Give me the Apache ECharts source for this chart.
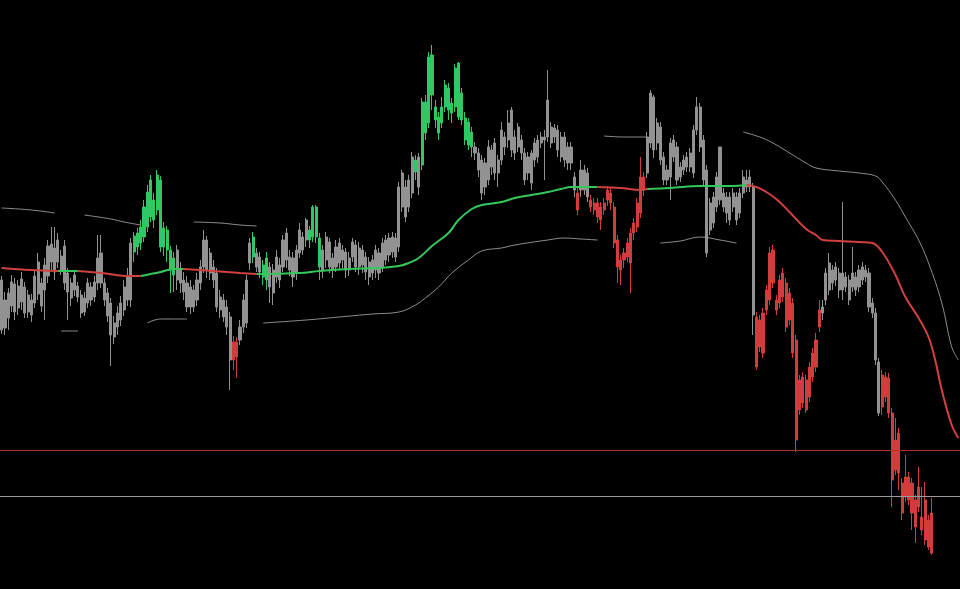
<!DOCTYPE html>
<html>
<head>
<meta charset="utf-8">
<script src="https://cdn.jsdelivr.net/npm/echarts@6/dist/echarts.min.js"></script>
<style>html,body{margin:0;padding:0;background:#000;}#c{width:960px;height:589px;}</style>
</head>
<body>
<div id="c"></div>
<script>
// OHLC candles: [open, close, low, high]
const candles = [
[270,320,266,324],[272,300,265,308],[282,307,270,312],[294,318,288,325],[288,316,280,322],[292,314,285,320],[298,321,290,328],[287,313,282,318],[288,305,282,310],[285,300,278,306],
[297,324,292,330],[306,338,300,347],[294,317,288,322],[310,335,280,342],[324,354,317,360],[338,356,330,373],[328,352,320,373],[338,360,332,367],[330,344,325,350],[317,354,310,360],
[308,327,280,332],[302,317,294,322],[310,325,304,330],[303,314,298,318],[287,305,282,310],[288,302,284,308],[297,317,292,322],[300,313,294,318],[303,318,298,324],[317,342,310,365],
[317,347,312,365],[300,317,294,322],[284,307,278,312],[265,297,234,302],[263,277,256,284],[273,287,265,294],[280,297,274,304],[290,313,284,320],[300,323,294,332],[300,357,293,362],
[348,364,338,368],[353,367,345,372],[357,373,350,380],[363,393,358,400],[373,408,368,415],[383,420,378,425],[380,400,372,407],[390,425,385,430],[353,420,348,424],[353,372,344,378],
[350,370,338,374],[330,350,307,354],[325,342,308,348],[320,350,310,355],[317,330,307,338],[308,320,300,328],[293,317,288,324],[293,313,286,320],[293,310,288,315],[300,320,294,327],
[317,333,310,340],[333,360,327,370],[330,360,322,364],[327,347,320,352],[320,333,312,340],[293,327,288,332],[290,303,282,310],[283,300,278,306],[273,293,265,300],[240,283,210,288],
[240,258,230,264],[243,258,222,263],[260,273,255,280],[273,300,267,306],[277,320,272,325],[337,357,330,362],[343,363,337,368],[333,347,328,352],[328,343,322,348],[323,335,315,340],
[320,342,310,348],[313,333,297,338],[307,330,295,336],[323,343,317,350],[320,335,312,342],[333,360,328,365],[340,367,332,372],[330,343,324,350],[323,342,313,348],[327,350,320,355],
[347,370,342,377],[350,363,345,368],[360,380,353,382],[360,370,352,374],[363,393,358,395],[363,393,357,395],[333,362,320,367],[330,350,322,355],[340,363,332,368],[333,358,327,362],
[330,342,322,347],[333,353,328,360],[337,357,330,362],[340,350,332,355],[330,348,322,352],[330,342,324,348],[343,358,338,362],[333,355,328,360],[333,352,325,358],[335,350,327,355],
[328,343,320,348],[323,338,315,343],[327,340,320,345],[330,350,322,355],[327,347,320,352],[333,357,328,362],[340,360,335,365],[345,362,338,367],[348,363,342,368],[343,362,338,367],
[353,413,348,418],[393,427,388,430],[383,413,378,420],[393,420,388,425],[407,443,402,448],[428,440,420,445],[413,443,405,447],[435,498,430,502],[467,498,460,505],[477,543,472,548],
[505,545,490,555],[480,493,472,500],[467,483,460,488],[477,493,472,503],[493,515,488,520],[490,512,480,517],[487,497,477,502],[493,532,488,536],[483,537,480,538],[480,507,475,512],
[460,482,455,488],[455,478,450,482],[453,468,443,473],[447,453,440,458],[430,447,423,452],[407,440,400,445],[413,437,405,442],[420,453,415,460],[433,450,425,455],[427,457,420,462],
[427,440,413,445],[440,470,435,478],[453,463,445,468],[460,477,452,490],[450,490,443,493],[447,463,440,470],[453,473,448,477],[447,460,440,465],[420,447,415,452],[427,443,420,448],
[417,447,410,450],[440,457,433,462],[443,460,437,465],[457,463,452,468],[460,463,420,470],[463,500,458,530],[457,473,452,478],[463,472,457,476],[450,470,443,475],[443,463,438,468],
[440,463,433,468],[437,453,430,458],[437,453,430,458],[410,423,403,428],[390,407,385,412],[410,430,403,440],[410,430,405,435],[403,427,398,432],[393,400,388,405],[390,397,385,402],
[383,397,377,402],[380,393,370,398],[390,397,385,402],[400,410,394,414],[397,407,390,412],[357,393,352,398],[333,360,317,365],[330,340,315,345],[340,347,332,352],[343,357,338,362],
[337,367,307,372],[367,377,360,382],[373,397,368,402],[387,423,382,443],[410,423,404,428],[427,463,422,468],[457,507,452,510],[450,503,442,505],[457,477,450,482],[440,473,435,478],
[420,443,415,448],[420,430,415,435],[423,457,400,462],[443,460,438,465],[420,453,415,458],[423,433,418,438],[430,440,425,445],[433,443,428,448],[433,447,428,452],[427,470,422,475],
[470,493,465,503],[453,493,448,497],[420,460,415,465],[347,430,343,435],[370,397,365,402],[377,403,372,408],[393,423,388,428],[400,453,395,453],[393,407,388,412],[387,403,377,408],
[380,403,375,408],[393,407,388,412],[380,403,375,408],[387,407,382,412],[407,423,402,430],[413,420,408,430],[413,423,408,430],[285,413,265,417],[233,283,230,288],[253,280,248,285],
[247,287,242,292],[290,310,285,315],[300,347,295,353],[317,350,312,355],[290,300,285,305],[297,320,292,325],[303,327,298,332],[273,317,268,322],[280,307,275,312],[247,297,242,302],
[160,260,148,265],[190,220,185,225],[197,223,192,228],[190,220,187,225],[203,233,198,238],[223,247,218,252],[233,260,228,267],[273,290,268,300],[287,293,280,300],[300,327,295,332],
[310,337,305,347],[317,330,310,335],[320,333,314,338],[310,327,302,332],[310,327,300,398],[313,323,308,328],[300,320,295,325],[313,327,308,353],[310,323,304,328],[313,330,308,335],
[320,333,315,338],[323,330,318,335],[293,327,288,332],[287,297,282,302],[240,287,235,292],[187,238,184,242],[193,225,185,230],[203,223,198,228],[187,222,182,227],[120,187,93,192],
[130,160,125,182],[127,167,110,172],[87,117,80,122],[103,123,98,145],[100,123,95,128],[87,117,70,122],[73,100,57,105],[93,113,88,133],[70,83,65,113],[60,100,55,118],
[53,80,50,85],[47,87,45,102]
];
// candle tone runs: n = neutral (grey), g = bullish trend (green), r = bearish trend (red)
const toneRuns = [['n',40],['g',13],['n',17],['r',2],['n',4],['g',1],['n',2],['g',2],['n',12],['g',4],['n',28],['g',1],['n',1],['g',16],['n',31],['r',1],['n',3],['r',17],['n',33],['r',20],['n',18],['r',16]];
const barCount = 290;
// moving average, trend colored segments: [barIndex, value]
const maSegments = [
  {tone:'r', pts:[[0,332],[9,330],[17,329]]},
  {tone:'g', pts:[[17,329],[23,329]]},
  {tone:'r', pts:[[23,329],[30,327],[39,324],[42,324]]},
  {tone:'g', pts:[[42,324],[48,328],[52,331],[55,331]]},
  {tone:'r', pts:[[55,331],[64,329],[72,327],[77,326]]},
  {tone:'g', pts:[[77,326],[90,327],[96,329],[105,331],[114,332],[120,334],[123,337],[126,342],[130,354],[135,367],[138,380],[142,391],[145,395],[151,398],[155,402],[160,405],[165,408],[169,411],[172,413],[176,413],[180,413]]},
  {tone:'r', pts:[[180,413],[187,412],[193,410],[195,411]]},
  {tone:'g', pts:[[195,411],[202,412],[211,414],[220,414],[225,415]]},
  {tone:'r', pts:[[225,415],[228,413],[231,408],[234,401],[238,388],[243,371],[246,365],[248,360],[253,359],[259,358],[263,357],[266,348],[270,325],[273,303],[277,282],[280,263],[282,240],[284,210],[287,175],[289,162]]}
];
// envelope bands (drawn only where defined)
const upperBand = [
  [[0,392],[9,390],[16,387]],
  [[25,385],[33,381],[37,378],[42,375]],
  [[58,378],[66,377],[72,375],[77,374]],
  [[182,464],[188,463],[195,463]],
  [[224,468],[229,463],[233,457],[239,445],[243,437],[246,432],[253,429],[259,427],[264,424],[266,418],[270,400],[273,383],[277,360],[280,337],[284,297],[287,253],[289,240]]
];
const lowerBand = [
  [[18,269],[23,269]],
  [[44,277],[48,281],[56,281]],
  [[79,277],[92,280],[102,283],[112,286],[120,288],[125,295],[128,302],[132,313],[136,327],[141,340],[145,349],[151,352],[155,355],[165,360],[170,362],[175,361],[180,360]],
  [[199,357],[205,359],[211,363],[217,360],[222,357]]
];
// horizontal levels
const levels = [{value:150, tone:'r'}, {value:104, tone:'n'}];

const COL = {n:'#929292', g:'#2fc863', r:'#d23c3c'};
const MA_COL = {g:'#34c85a', r:'#d24040'};
const LEVEL_COL = {r:'#b82c2c', n:'#9a9a9a'};

const tones = [];
toneRuns.forEach(([t,n]) => { for (let k=0;k<n;k++) tones.push(t); });
const categories = [];
for (let i=0;i<barCount;i++) categories.push(String(i+1));

const candleData = candles.map((c,i) => {
  const col = COL[tones[i]];
  return {value:c, itemStyle:{color:col, color0:col, borderColor:col, borderColor0:col}};
});

const series = [{
  type:'candlestick', data:candleData, barWidth:2.6,
  itemStyle:{borderWidth:1},
  markLine:{silent:true, symbol:['none','none'], label:{show:false},
    data: levels.map(l => ({yAxis:l.value, lineStyle:{color:LEVEL_COL[l.tone], width:1, type:'solid'}}))}
}];
upperBand.concat(lowerBand).forEach(seg => series.push({
  type:'line', data:seg, smooth:0.4, showSymbol:false, silent:true,
  lineStyle:{color:'#a6a6a6', width:1, opacity:0.85}
}));
maSegments.forEach(seg => series.push({
  type:'line', data:seg.pts, smooth:0.4, showSymbol:false, silent:true, z:5,
  lineStyle:{color:MA_COL[seg.tone], width:2}
}));

const chart = echarts.init(document.getElementById('c'));
chart.setOption({
  backgroundColor:'#000',
  animation:false,
  grid:{left:0, top:0, width:960, height:589, containLabel:false},
  xAxis:{type:'category', data:categories, boundaryGap:true, show:false},
  yAxis:{type:'value', min:11, max:600, show:false, splitLine:{show:false}},
  series:series
});
</script>
</body>
</html>
